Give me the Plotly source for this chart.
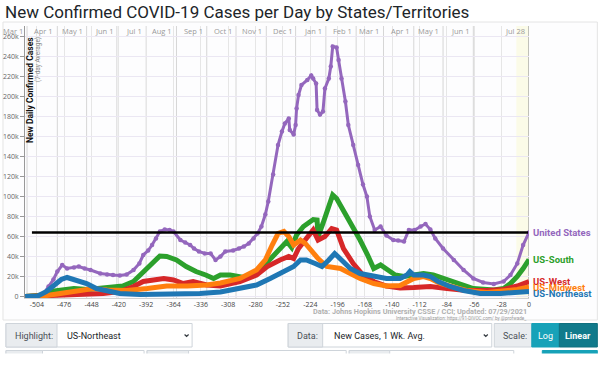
import plotly.graph_objects as go
from datetime import date

TITLE = "New Confirmed COVID-19 Cases per Day by States/Territories"

# ---- data (day offset from Jul 28 2021, 7-day avg new cases in thousands) ----
us_days = [-516, -503, -497, -492, -487, -483, -478, -473, -466, -461, -455, -449, -439, -432,
           -426, -419, -412, -405, -399, -395, -390, -386, -382, -378, -373, -368, -364, -357,
           -352, -347, -343, -338, -332, -326, -321, -316, -311, -303, -297, -292, -287, -282,
           -278, -274, -270, -267, -262, -257, -253, -250, -246, -245, -241, -239, -238, -236,
           -233, -227, -223, -221, -218, -217, -214, -211, -209, -205, -203, -201, -197, -195,
           -192, -188, -185, -180, -175, -170, -166, -163, -158, -152, -146, -139, -134, -128,
           -123, -117, -111, -106, -101, -96, -88, -77, -67, -57, -47, -36, -26, -19, -12, -6, 0]
us_k = [0.2, 0.5, 3, 10, 17, 25, 31.5, 28, 29, 30, 28, 26.5, 23, 22,
        21.5, 21, 22, 26.5, 33, 41.5, 46, 51.5, 58, 65, 67, 66.5, 65, 56.5,
        54, 51.5, 48, 45, 43, 43, 36.5, 40, 45, 46, 48, 50, 53, 58,
        63, 70, 82, 95, 122, 151.5, 165, 173, 178, 166.5, 162, 171.5, 188, 201.5,
        211.5, 216.5, 221, 218, 213, 186.5, 182, 185, 208, 218, 230, 250, 249, 236.5,
        218, 195, 171.5, 151.5, 131.5, 112, 100, 80, 66.5, 70, 61, 56.5, 56, 55,
        66.5, 66.5, 70, 72.5, 67, 58, 48, 36.5, 26.5, 18, 14, 12.5, 15, 21.5, 33, 51.5, 64]

south_days = [-516, -503, -497, -490, -478, -466, -452, -439, -426, -416, -405, -395, -385,
              -378, -371, -361, -351, -341, -331, -323, -316, -306, -292, -280, -274, -265,
              -255, -248, -243, -238, -231, -221, -217, -216, -211, -206, -201, -197, -190,
              -181, -173, -166, -159, -152, -145, -137, -128, -118, -108, -98, -84, -70, -57,
              -36, -26, -19, -12, -6, 0]
south_k = [0, 0.3, 1.5, 5, 7, 8, 7, 8, 9, 10.5, 15, 25, 35,
           40.5, 40, 36.5, 30, 25, 21.5, 18, 21.5, 21.5, 19, 23, 28, 38,
           48, 55, 49, 61.5, 70, 77, 76.5, 60, 73, 86.5, 101.5, 98, 86.5,
           71.5, 56.5, 43, 28, 31.5, 26.5, 21.5, 20, 21.5, 23, 21.5, 16.5, 11.5, 8,
           6.5, 8, 13, 20, 28, 37]

west_days = [-516, -497, -485, -470, -436, -419, -405, -395, -385, -374, -364, -354, -344,
             -330, -316, -296, -279, -268, -255, -246, -241, -236, -228, -221, -216, -209,
             -202, -197, -190, -180, -170, -159, -146, -132, -118, -101, -84, -64, -43,
             -26, -12, 0]
west_k = [0, 0.5, 1.2, 1.5, 3, 5, 10, 15, 17, 18, 16.5, 13, 15,
          11.5, 10.5, 15, 21.5, 30, 36.5, 40, 38, 48, 58, 66.5, 56.5, 60,
          68, 66.5, 48, 33, 21.5, 15, 10.5, 8.5, 9, 10, 8, 6, 6,
          7, 10.5, 15]

midwest_days = [-516, -497, -480, -460, -446, -432, -412, -391, -371, -350, -330, -316, -296,
                -279, -270, -263, -257, -251, -246, -241, -234, -229, -222, -216, -207, -193,
                -183, -173, -159, -146, -132, -118, -108, -101, -91, -77, -64, -43, -26, -12, 0]
midwest_k = [0, 0.5, 3, 6.5, 8, 6.5, 6, 8, 10.5, 10.5, 11.5, 13.5, 18,
             26.5, 36.5, 51.5, 63, 65, 60, 51.5, 56.5, 53, 45, 38, 30, 28,
             23, 18, 13, 10.5, 11, 18, 20, 18, 13, 9, 6, 4, 5, 7, 9.5]

northeast_days = [-516, -503, -494, -487, -479, -473, -463, -453, -443, -432, -419, -398, -378,
                  -357, -337, -316, -296, -279, -265, -251, -241, -234, -228, -219, -212, -205,
                  -199, -192, -183, -173, -159, -146, -132, -125, -122, -118, -108, -101, -93,
                  -81, -67, -50, -29, -12, 0]
northeast_k = [0, 0.5, 5, 10, 17, 19, 16.5, 13, 8, 5.5, 3, 2, 2,
               2.5, 3, 4.5, 8, 11.5, 18, 25, 30, 36.5, 36.5, 33, 30, 36.5,
               43, 36.5, 28, 23, 20, 18, 18, 21.5, 25, 21.5, 21.5, 20, 15,
               10, 6, 3, 3, 4, 5]

series = [
    ("United States", us_days, us_k, "#9467bd"),
    ("US-South", south_days, south_k, "#2ca02c"),
    ("US-West", west_days, west_k, "#d62728"),
    ("US-Midwest", midwest_days, midwest_k, "#ff7f0e"),
    ("US-Northeast", northeast_days, northeast_k, "#1f77b4"),
]

x_ticks = list(range(-504, 1, 28))
x_ticktext = [str(v) for v in x_ticks]
y_ticks = list(range(0, 260001, 20000))
y_ticktext = ["0"] + [f"{v // 1000}k" for v in y_ticks[1:]]

END_DATE = date(2021, 7, 28)
month_dates = [date(2020, m, 1) for m in range(3, 13)] + [date(2021, m, 1) for m in range(1, 7)] + [END_DATE]
month_labels = [f"{d.strftime('%b')} {d.day}" for d in month_dates]
month_days = [(d - END_DATE).days for d in month_dates]

# ---- geometry ----
W, H = 600, 390
L, R, T, B = 25, 71.3, 26, 92
PW, PH = W - L - R, H - T - B


def px(xp):
    return (xp - L) / PW


def py(yp):
    return (H - B - yp) / PH


fig = go.Figure()

for name, xs, ks, color in series:
    is_us = name == "United States"
    fig.add_trace(go.Scatter(
        x=xs, y=[k * 1000 for k in ks], mode="lines+markers" if is_us else "lines",
        line=dict(color=color, width=3 if is_us else 5),
        marker=dict(size=4.5, color=color),
        name=name, showlegend=False, hoverinfo="skip"))

current_us = us_k[-1] * 1000
fig.add_trace(go.Scatter(x=[-509, -1], y=[current_us, current_us], mode="lines",
                         line=dict(color="black", width=2.5), showlegend=False, hoverinfo="skip"))

shapes = []
ann = []

# panel
shapes.append(dict(type="rect", xref="paper", yref="paper", x0=px(3), x1=px(597), y0=py(320), y1=py(22),
                   line=dict(color="#e4e4e4", width=1), fillcolor="#fdfdfe", layer="below"))
# incomplete-data band
shapes.append(dict(type="rect", xref="x", yref="paper", x0=-13, x1=0, y0=0, y1=1,
                   line=dict(width=0), fillcolor="#fbfbe8", layer="below"))
# month separators + labels
for d, lab in zip(month_days, month_labels):
    last = d == 0
    shapes.append(dict(type="line", xref="x", yref="paper", x0=d, x1=d, y0=0, y1=1,
                       line=dict(color="#999999" if last else "#d6d6d6", width=1.2 if last else 1),
                       layer="below"))
    ann.append(dict(x=d, xref="x", y=py(30.5), yref="paper", text=lab, showarrow=False,
                    xanchor="right", yanchor="middle", xshift=-2,
                    font=dict(family="Open Sans", size=7.5, color="#9a9a9a")))

# right labels
label_shift = {"US-Northeast": -2}
for name, xs, ks, color in series:
    ann.append(dict(x=0, xref="x", y=ks[-1] * 1000, yref="y", text=f"<b>{name}</b>", showarrow=False,
                    xanchor="left", yanchor="middle", xshift=2, yshift=label_shift.get(name, 0),
                    font=dict(family="Roboto", size=9.5, color=color)))

# y title
ann.append(dict(x=px(30), y=py(35), xref="paper", yref="paper", text="<b>New Daily Confirmed Cases</b>",
                textangle=-90, showarrow=False, xanchor="center", yanchor="top",
                font=dict(family="Roboto", size=8.5, color="#111")))
ann.append(dict(x=px(37.5), y=py(35), xref="paper", yref="paper", text="(7-day Average)",
                textangle=-90, showarrow=False, xanchor="center", yanchor="top",
                font=dict(family="Roboto", size=6.5, color="#8a8a8a")))

# data source
ann.append(dict(x=px(528.7), y=py(311.5), xref="paper", yref="paper",
                text="<b>Data: Johns Hopkins University CSSE / CCI; Updated: 07/29/2021</b>",
                showarrow=False, xanchor="right", yanchor="middle",
                font=dict(family="Roboto", size=7.3, color="#b0b0b0")))
ann.append(dict(x=px(529), y=py(318.3), xref="paper", yref="paper",
                text="Interactive Visualization: https://91-DIVOC.com/ by @profwade_",
                showarrow=False, xanchor="right", yanchor="middle",
                font=dict(family="Roboto", size=4.6, color="#999")))

# controls
def box(x0, x1, y0, y1, fill, line="#ced4da"):
    shapes.append(dict(type="rect", xref="paper", yref="paper", x0=px(x0), x1=px(x1),
                       y0=py(y1), y1=py(y0), fillcolor=fill, line=dict(color=line, width=1)))


def text(xc, yc, s, size=9, color="#495057", anchor="left"):
    ann.append(dict(x=px(xc), y=py(yc), xref="paper", yref="paper", text=s, showarrow=False,
                    xanchor=anchor, yanchor="middle", font=dict(family="Roboto", size=size, color=color)))


def chevron(xc, yc):
    shapes.append(dict(type="path", xref="paper", yref="paper",
                       path=f"M {px(xc-2)} {py(yc-1)} L {px(xc)} {py(yc+1)} L {px(xc+2)} {py(yc-1)}",
                       line=dict(color="#343a40", width=1.2)))


R1a, R1b, YC = 323.5, 347, 335.5
box(6, 192, R1a, R1b, "#ffffff")
box(6, 57, R1a, R1b, "#e9ecef")
text(13, YC, "Highlight:")
text(65, YC, "US-Northeast", color="#212529")
chevron(186.5, YC)

box(288, 491.5, R1a, R1b, "#ffffff")
box(288, 322.5, R1a, R1b, "#e9ecef")
text(295, YC, "Data:")
text(331.5, YC, "New Cases, 1 Wk. Avg.", color="#212529")
chevron(485.5, YC)

box(494, 531.5, R1a, R1b, "#e9ecef")
text(500.5, YC, "Scale:")
box(531.5, 559, R1a, R1b, "#17a2b8", line="#17a2b8")
text(545.2, YC, "Log", color="#ffffff", anchor="center")
box(559, 597, R1a, R1b, "#117a8b", line="#10707f")
text(578, YC, "<b>Linear</b>", color="#ffffff", anchor="center")

R2a, R2b = 350.5, 356
for (a, m, b) in [(6, 42.5, 144), (147, 188.5, 346), (349, 389.5, 513.5)]:
    box(a, b, R2a, R2b, "#ffffff")
    box(a, m, R2a, R2b, "#e9ecef")
box(542, 597, R2a, R2b, "#17a2b8", line="#17a2b8")
# mask below second row (page cut)
shapes.append(dict(type="rect", xref="paper", yref="paper", x0=px(0), x1=px(600), y0=py(390), y1=py(353.5),
                   fillcolor="#ffffff", line=dict(width=0)))

fig.update_layout(
    width=W, height=H,
    margin=dict(l=L, r=R, t=T, b=B, autoexpand=False),
    paper_bgcolor="#ffffff", plot_bgcolor="rgba(251,250,253,0.9)",
    title=dict(text=TITLE, x=5 / W, xref="container", xanchor="left", y=1 - 12 / H, yref="container",
               yanchor="middle", font=dict(family="Roboto", size=17, color="#212529")),
    shapes=shapes, annotations=ann,
    xaxis=dict(range=[-516.1, 0], tickvals=x_ticks, ticktext=x_ticktext, showgrid=True,
               gridcolor="#e6e6e6", zeroline=False, showline=True, linecolor="#d0d0d0",
               ticks="", tickfont=dict(family="Open Sans", size=7, color="#444")),
    yaxis=dict(range=[-1500, 270500], tickvals=y_ticks, ticktext=y_ticktext, showgrid=True,
               gridcolor="#ebe7f3", zeroline=False, showline=True, linecolor="#999999",
               ticks="outside", ticklen=4, tickcolor="#999", tickfont=dict(family="Open Sans", size=7, color="#666")),
    font=dict(family="Roboto"),
)

fig.write_html("out.html", config={"displayModeBar": False},
               post_script="document.body.style.margin='0';document.body.style.overflow='hidden';")
